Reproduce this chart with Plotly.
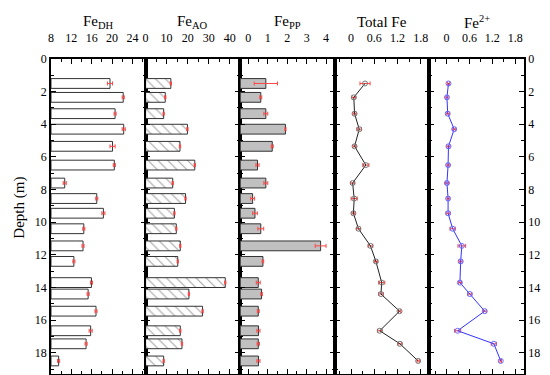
import plotly.graph_objects as go

depth = [1.5, 2.35, 3.35, 4.3, 5.35, 6.5, 7.6, 8.55, 9.45, 10.4, 11.45, 12.4, 13.7, 14.4, 15.45, 16.65, 17.45, 18.5]

fe_dh = [19.6, 22.2, 20.6, 22.3, 20.1, 20.45, 10.7, 17.0, 18.3, 14.45, 14.3, 12.5, 15.95, 15.3, 16.85, 15.8, 14.9, 9.5]
fe_dh_err = [0.5, 0.2, 0.2, 0.3, 0.5, 0.2, 0.3, 0.2, 0.3, 0.2, 0.2, 0.2, 0.2, 0.2, 0.2, 0.3, 0.2, 0.2]

fe_ao = [12.0, 9.35, 8.6, 19.9, 16.35, 23.4, 12.9, 19.0, 13.7, 14.6, 16.5, 15.3, 37.9, 20.6, 27.1, 16.5, 17.3, 8.6]
fe_ao_err = [0.3] * 18

fe_pp = [0.9, 0.64, 0.9, 1.91, 1.23, 0.47, 0.9, 0.22, 0.34, 0.64, 3.72, 0.75, 0.51, 0.68, 0.51, 0.52, 0.51, 0.52]
fe_pp_err = [0.6, 0.05, 0.1, 0.03, 0.05, 0.08, 0.1, 0.1, 0.12, 0.15, 0.28, 0.04, 0.1, 0.04, 0.05, 0.08, 0.06, 0.08]

total_fe = [0.36, 0.07, 0.09, 0.21, 0.09, 0.38, 0.04, 0.08, 0.06, 0.19, 0.50, 0.64, 0.79, 0.77, 1.25, 0.74, 1.26, 1.73]
total_fe_err = [0.13, 0.05, 0.04, 0.06, 0.04, 0.08, 0.05, 0.08, 0.04, 0.05, 0.06, 0.04, 0.08, 0.06, 0.03, 0.06, 0.05, 0.03]

fe2 = [0.05, 0.01, 0.03, 0.2, 0.05, 0.04, 0.01, 0.04, 0.04, 0.16, 0.4, 0.37, 0.35, 0.61, 1.0, 0.29, 1.24, 1.42]
fe2_err = [0.03, 0.03, 0.04, 0.04, 0.04, 0.03, 0.04, 0.03, 0.05, 0.07, 0.1, 0.04, 0.04, 0.05, 0.04, 0.08, 0.07, 0.02]

titles = ["Fe<sub>DH</sub>", "Fe<sub>AO</sub>", "Fe<sub>PP</sub>", "Total Fe", "Fe<sup>2+</sup>"]
x_ranges = [[8, 26.6], [0, 45], [-0.42, 4.45], [-0.42, 2.02], [-0.45, 2.03]]
x_dtick = [4, 10, 1, 0.6, 0.6]
x_minor = [2, 5, 0.5, 0.3, 0.3]
x_tick0 = [8, 0, 0, 0, 0]
depth_range = [19.3, 0]

FONT = "Liberation Serif"
ERR = "rgb(255,70,70)"

fig = go.Figure()

def err_trace(vals, errs, i):
    return go.Scatter(x=vals, y=depth, mode="markers",
                      marker=dict(size=1, color="rgba(0,0,0,0)"),
                      error_x=dict(type="data", array=errs, color=ERR, thickness=1, width=2),
                      xaxis=f"x{i}" if i > 1 else "x", yaxis=f"y{i}" if i > 1 else "y",
                      showlegend=False, hoverinfo="skip")

bar_sets = [(fe_dh, fe_dh_err, dict(color="white", line=dict(color="#333", width=1))),
            (fe_ao, fe_ao_err, dict(color="white", line=dict(color="#333", width=1),
                                    pattern=dict(shape="\\", fgcolor="#444", bgcolor="white", size=7, solidity=0.15))),
            (fe_pp, fe_pp_err, dict(color="#c0c0c0", line=dict(color="#333", width=1)))]

for k, (vals, errs, mk) in enumerate(bar_sets):
    i = k + 1
    base = x_ranges[k][0]
    fig.add_trace(go.Bar(x=[v - base for v in vals], y=depth, base=base, orientation="h", width=0.6,
                         marker=mk, xaxis=f"x{i}" if i > 1 else "x", yaxis=f"y{i}" if i > 1 else "y",
                         showlegend=False))
    fig.add_trace(err_trace(vals, errs, i))

fig.add_trace(go.Scatter(x=total_fe, y=depth, mode="lines+markers",
                         line=dict(color="#222", width=1),
                         marker=dict(symbol="circle-open", size=5, color="#777", line=dict(width=1)),
                         error_x=dict(type="data", array=total_fe_err, color=ERR, thickness=1, width=2),
                         xaxis="x4", yaxis="y4", showlegend=False))
fig.add_trace(go.Scatter(x=fe2, y=depth, mode="lines+markers",
                         line=dict(color="#3333ff", width=1),
                         marker=dict(symbol="circle-open", size=5, color="#6a6aff", line=dict(width=1)),
                         error_x=dict(type="data", array=fe2_err, color=ERR, thickness=1, width=2),
                         xaxis="x5", yaxis="y5", showlegend=False))

layout = dict(width=550, height=375, margin=dict(l=43, r=34, t=51, b=7),
              plot_bgcolor="white", paper_bgcolor="white", font=dict(family=FONT, color="black"),
              barmode="overlay")

for k in range(5):
    i = k + 1
    xs = "xaxis" if i == 1 else f"xaxis{i}"
    ys = "yaxis" if i == 1 else f"yaxis{i}"
    yref = "y" if i == 1 else f"y{i}"
    xref = "x" if i == 1 else f"x{i}"
    layout[xs] = dict(domain=[k / 5, (k + 1) / 5], range=x_ranges[k], side="top", anchor=yref,
                      showline=True, linecolor="black", linewidth=1.5, mirror="allticks",
                      ticks="inside", ticklen=5, tickwidth=1.2, tickcolor="black",
                      tick0=x_tick0[k], dtick=x_dtick[k], showgrid=False, zeroline=False,
                      tickfont=dict(size=12, family=FONT), ticklabelstandoff=10,
                      minor=dict(dtick=x_minor[k], tick0=x_tick0[k], ticks="inside", ticklen=3,
                                 tickcolor="black", showgrid=False))
    layout[ys] = dict(range=depth_range, anchor=xref, showline=True, linecolor="black", linewidth=1.5,
                      mirror="allticks", ticks="inside", ticklen=5, tickwidth=1.2, tickcolor="black",
                      dtick=2, tick0=0, showgrid=False, zeroline=False,
                      showticklabels=(i in (1, 5)), side="right" if i == 5 else "left",
                      tickfont=dict(size=12, family=FONT),
                      minor=dict(dtick=1, ticks="inside", ticklen=3, tickcolor="black", showgrid=False))

annotations = []
for k, t in enumerate(titles):
    annotations.append(dict(text=t, x=(k + 0.5) / 5, y=1, xref="paper", yref="paper",
                            yshift=37, xanchor="center", yanchor="middle", showarrow=False,
                            font=dict(size=15, family=FONT)))
annotations.append(dict(text="Depth (m)", x=(12 - 43) / 473, y=0.528, xref="paper", yref="paper",
                        textangle=-90, showarrow=False, xanchor="center", yanchor="middle",
                        font=dict(size=15, family=FONT)))
layout["annotations"] = annotations

fig.update_layout(**layout)
fig.write_html("out.html")
